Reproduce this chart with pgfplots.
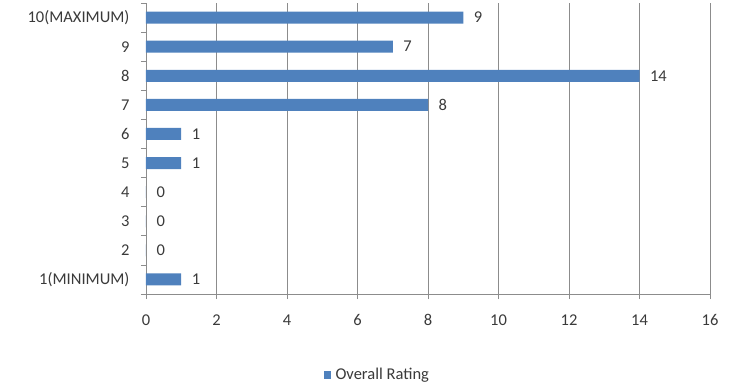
\documentclass[border=0pt]{standalone}
\usepackage{pgfplots}
\pgfplotsset{compat=1.18}
\usepackage{fontspec}
\setmainfont{Carlito}
\definecolor{barblue}{HTML}{4F81BD}
\definecolor{gridgray}{HTML}{8C8C8C}
\definecolor{txt}{HTML}{3A3A3A}
\begin{document}
\begin{tikzpicture}
\begin{axis}[
  name=ax,
  scale only axis,
  width=564pt, height=291pt,
  /pgf/number format/assume math mode=true,
  xbar, bar width=12pt,
  xmin=0, xmax=16, ymin=0.5, ymax=10.5,
  xtick={0,2,...,16},
  ytick={1,...,10},
  yticklabels={1(MINIMUM),2,3,4,5,6,7,8,9,10(MAXIMUM)},
  axis x line*=bottom, axis y line*=left,
  axis line style={gridgray, -},
  xmajorgrids, major grid style={gridgray, line width=0.8pt},
  x tick style={gridgray, line width=0.8pt},
  tick align=outside,
  major tick length=5pt,
  y tick style={draw=none},
  extra y ticks={0.5,1.5,...,10.5},
  extra y tick labels={},
  extra y tick style={y tick style={draw=gridgray, line width=0.8pt}, major tick length=5pt, grid=none},
  tick label style={font=\fontsize{16.5}{18}\selectfont, text=txt},
  yticklabel style={xshift=-8pt},
  xticklabel style={yshift=-12pt},
  nodes near coords,
  nodes near coords style={font=\fontsize{16.5}{18}\selectfont, text=txt, anchor=west, xshift=7pt},
  legend style={at={(0.41,-0.278)}, anchor=center, draw=none, font=\fontsize{16.5}{18}\selectfont, text=txt},
  legend image code/.code={\fill[barblue] (0pt,-4pt) rectangle (7pt,4pt); \path (10pt,0pt);},
]
\addplot[fill=barblue, draw=none] coordinates {
(1,1) (0,2) (0,3) (0,4) (1,5) (1,6) (8,7) (14,8) (7,9) (9,10)};
\addlegendentry{Overall Rating}
\end{axis}
\pgfresetboundingbox
\path (ax.south west) ++(-146pt,-97pt) rectangle ++(738pt,391pt);
\end{tikzpicture}
\end{document}
